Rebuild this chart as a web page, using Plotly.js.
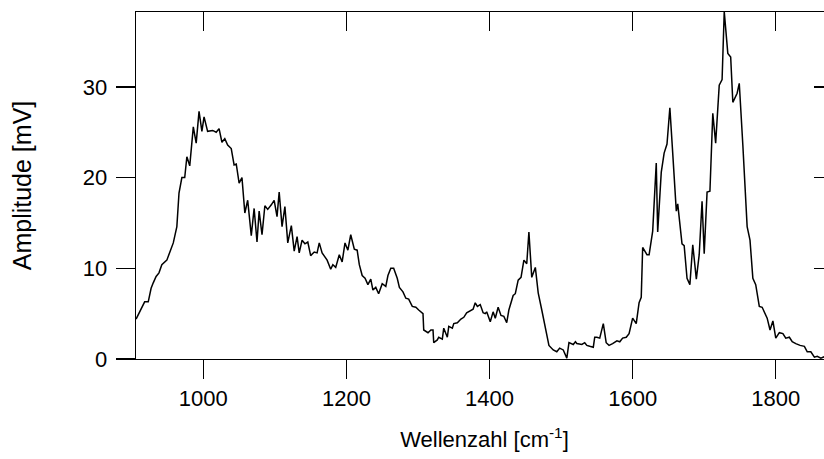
<!DOCTYPE html>
<html>
<head>
<meta charset="utf-8">
<script src="https://cdn.plot.ly/plotly-3.0.1.min.js"></script>
<style>
html,body{margin:0;padding:0;overflow:hidden;background:#fff;}
#chart{width:843px;height:459px;}
</style>
</head>
<body>
<div id="chart"></div>
<script>
// Wavenumber [cm^-1]
const wavenumber = [
906,918,923,927,930,934,938,942,949,953,958,963,966,970,974,977,981,986,990,994,
998,1001,1006,1013,1018,1022,1026,1030,1034,1039,1043,1046,1050,1054,1058,1062,1067,1071,1075,1078,
1082,1086,1090,1095,1099,1103,1106,1110,1114,1118,1123,1127,1131,1134,1138,1142,1146,1150,1155,1159,
1162,1166,1173,1178,1181,1185,1190,1194,1198,1202,1206,1211,1215,1218,1222,1226,1230,1234,1237,1241,
1245,1250,1255,1258,1262,1266,1271,1274,1279,1283,1287,1292,1297,1301,1307,1308,1314,1318,1321,1322,
1327,1329,1334,1336,1341,1343,1348,1350,1355,1360,1364,1368,1374,1377,1380,1383,1387,1391,1394,1396,
1401,1405,1408,1412,1416,1420,1424,1427,1433,1436,1440,1444,1448,1452,1455,1459,1464,1468,1473,1478,
1483,1489,1494,1498,1503,1508,1511,1517,1520,1522,1529,1533,1536,1540,1545,1547,1550,1554,1559,1563,
1567,1572,1578,1582,1586,1591,1595,1600,1605,1609,1612,1614,1620,1623,1628,1633,1635,1640,1644,1648,
1652,1656,1661,1663,1669,1672,1676,1680,1684,1689,1693,1697,1700,1704,1708,1712,1716,1721,1725,1728,
1733,1737,1740,1746,1749,1754,1760,1764,1768,1772,1777,1781,1788,1792,1796,1800,1805,1810,1814,1819,
1823,1828,1834,1840,1844,1849,1854,1858,1863,1866,1870,1875,1880
];
// Amplitude [mV]
const amplitude = [
4.4,6.3,6.3,7.8,8.4,9.1,9.5,10.4,10.9,11.7,12.8,14.6,18.3,20.0,20.0,22.3,21.3,25.6,23.8,27.3,
25.1,26.7,25.1,25.2,25.0,25.4,23.9,24.3,23.6,23.2,21.4,21.5,19.4,20.0,16.1,17.5,13.6,16.6,12.9,16.3,
13.7,16.9,16.5,17.0,17.5,15.7,18.4,14.6,16.8,12.8,14.7,11.9,13.5,11.7,13.1,12.7,12.9,11.4,11.8,11.7,
12.8,11.7,10.9,9.9,10.4,10.1,11.5,10.7,12.8,12.0,13.7,12.1,12.0,10.4,9.2,8.9,8.2,8.8,7.6,7.9,
7.2,8.3,8.0,9.2,10.0,10.0,8.9,7.9,7.4,6.7,6.6,5.8,5.7,5.4,5.0,3.2,2.9,3.2,3.2,1.8,
2.1,2.4,2.2,3.4,2.4,3.6,3.4,3.9,4.0,4.4,4.6,5.1,5.4,5.5,6.2,5.8,6.0,5.1,5.0,5.2,
4.1,5.2,4.5,5.7,4.8,4.7,4.0,5.4,7.0,7.2,8.7,9.0,10.9,10.5,14.0,9.0,10.1,7.3,5.4,3.5,
1.5,1.0,0.8,1.2,1.0,0.1,1.8,1.6,1.9,1.7,1.6,1.8,1.5,1.4,1.3,2.4,2.4,2.3,3.9,1.8,
1.5,1.7,2.0,1.9,2.3,2.4,2.8,4.5,3.9,6.2,6.8,12.3,11.5,11.5,14.1,21.6,14.0,20.6,22.7,23.7,
27.7,22.7,16.3,17.1,12.7,12.5,8.9,8.2,12.6,8.8,11.5,17.4,11.6,18.4,18.5,27.1,23.8,30.2,30.8,38.3,
33.7,33.3,28.3,29.3,30.4,23.6,14.6,13.1,8.9,8.2,5.8,5.7,4.5,3.2,4.2,2.3,2.9,2.8,2.3,2.4,
1.9,1.7,1.5,1.4,0.8,0.8,0.2,0.3,0.1,0.2,0.3,0.2,0.3
];
const xTicks = [1000, 1200, 1400, 1600, 1800];
const yTicks = [0, 10, 20, 30];
const xRange = [905.9, 1880];
const yRange = [0, 38.26];

const family = '"Liberation Sans", Arial, Helvetica, sans-serif';
const tickFont = {family: family, size: 22, color: '#000'};
const xTitleFont = {family: family, size: 22, color: '#000'};
const yTitleFont = {family: family, size: 25, color: '#000'};

const traces = [
  {x: wavenumber, y: amplitude, type: 'scatter', mode: 'lines',
   line: {color: '#000', width: 1.5}, hoverinfo: 'skip', cliponaxis: true},
  {x: wavenumber, y: amplitude, type: 'scatter', mode: 'lines',
   xaxis: 'x2', yaxis: 'y2', line: {color: 'rgba(0,0,0,0)', width: 0}, hoverinfo: 'skip', showlegend: false}
];

const layout = {
  width: 843, height: 459,
  margin: {l: 136, r: 10, t: 12, b: 100},
  paper_bgcolor: '#fff', plot_bgcolor: '#fff',
  showlegend: false,
  font: tickFont,
  xaxis: {
    range: xRange, tickvals: xTicks, ticktext: xTicks.map(String),
    ticks: 'outside', ticklen: 19, tickwidth: 1.3, tickcolor: '#000',
    showline: true, linecolor: '#000', linewidth: 1.3,
    showgrid: false, zeroline: false, tickfont: tickFont,
    title: {text: 'Wellenzahl [cm<sup>-1</sup>]', font: xTitleFont, standoff: 22}
  },
  yaxis: {
    range: yRange, tickvals: yTicks, ticktext: yTicks.map(String),
    ticks: 'outside', ticklen: 19, tickwidth: 1.3, tickcolor: '#000',
    showline: true, linecolor: '#000', linewidth: 1.3,
    showgrid: false, zeroline: false, tickfont: tickFont, ticklabelstandoff: 4,
    title: {text: 'Amplitude [mV]', font: yTitleFont, standoff: 44}
  },
  xaxis2: {
    overlaying: 'x', side: 'top', anchor: 'y2', range: xRange, tickvals: xTicks,
    ticks: 'inside', ticklen: 19, tickwidth: 1.3, tickcolor: '#000',
    showline: true, linecolor: '#000', linewidth: 1.3,
    showticklabels: false, showgrid: false, zeroline: false
  },
  yaxis2: {
    overlaying: 'y', side: 'right', anchor: 'x2', range: yRange, tickvals: yTicks,
    ticks: 'inside', ticklen: 19, tickwidth: 1.3, tickcolor: '#000',
    showline: true, linecolor: '#000', linewidth: 1.3,
    showticklabels: false, showgrid: false, zeroline: false
  }
};

Plotly.newPlot('chart', traces, layout, {displayModeBar: false, staticPlot: true});
</script>
</body>
</html>
